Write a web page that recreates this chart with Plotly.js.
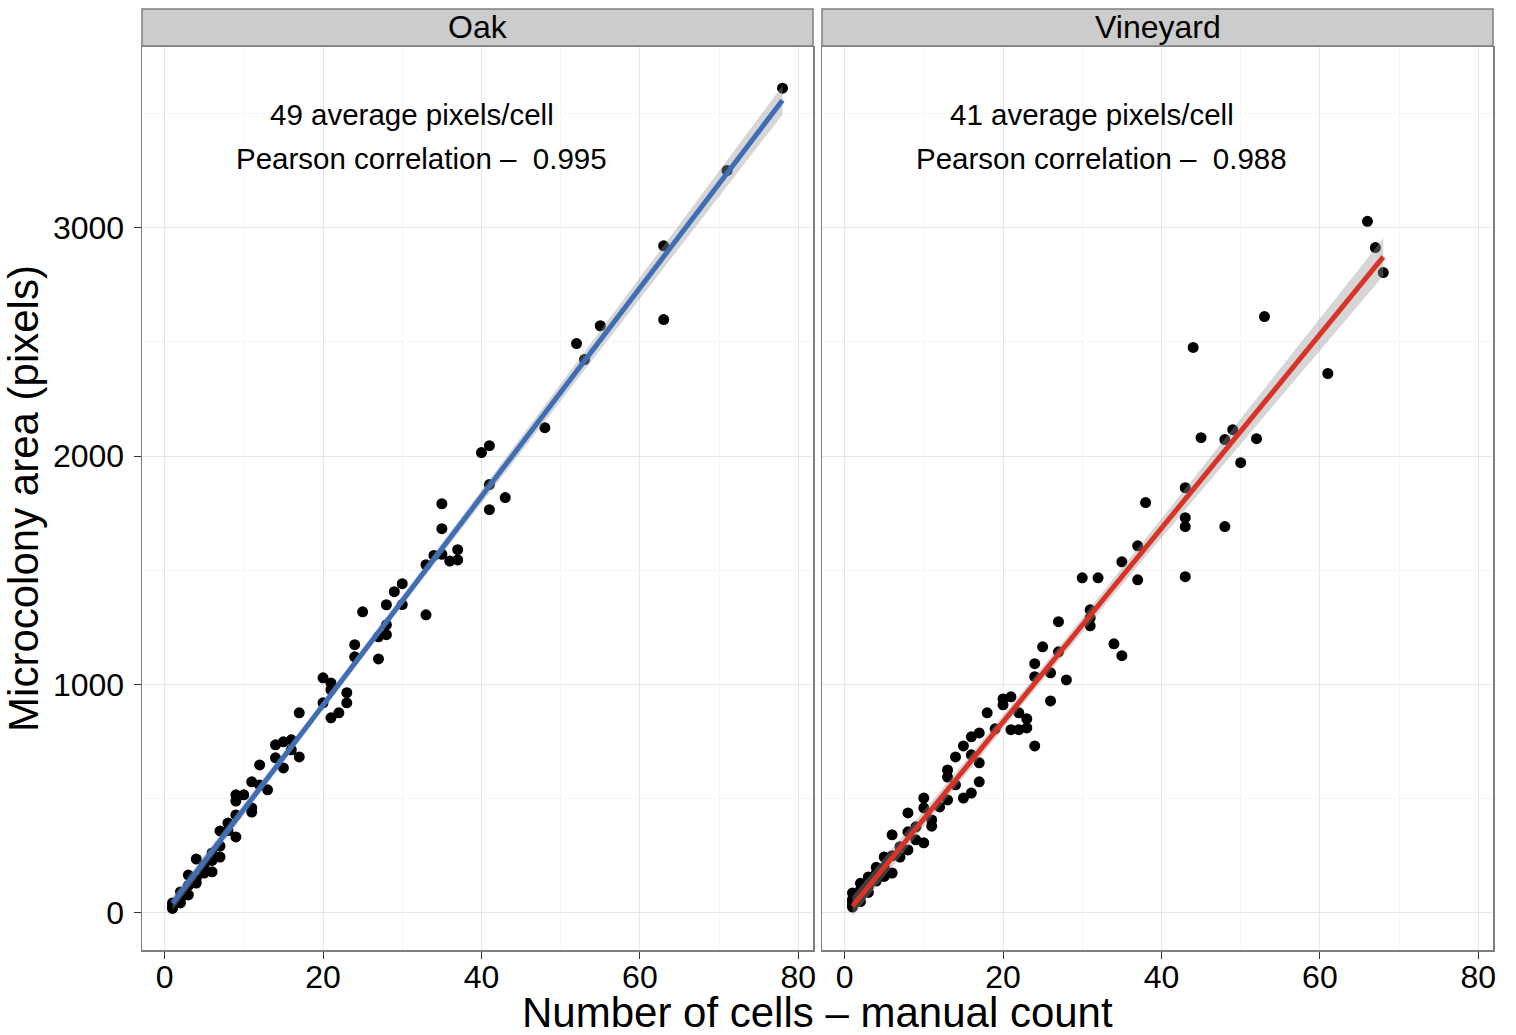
<!DOCTYPE html>
<html>
<head>
<meta charset="utf-8">
<script src="https://cdn.plot.ly/plotly-3.0.1.min.js"></script>
<style>html,body{margin:0;padding:0;background:#fff;}#chart{width:1516px;height:1035px;}</style>
</head>
<body>
<div id="chart"></div>
<script>
// ---- Data ----
const panels = ["Oak", "Vineyard"];
const oakCells = [1,1,1,2,2,2,3,3,3,4,4,4,5,5,6,6,6,7,7,7,8,8,9,9,9,9,10,11,11,11,12,12,13,14,14,15,15,16,16,17,17,20,20,21,21,21,22,23,23,24,24,25,27,27,28,28,28,29,30,30,33,33,34,35,36,37,37,35,35,40,41,41,41,43,48,52,53,55,63,63,71,78];
const oakArea  = [20,44,30,44,92,60,79,166,120,131,236,150,175,210,180,263,230,245,293,359,394,360,333,429,517,490,517,442,574,460,648,560,539,679,736,749,635,758,714,683,876,920,1029,854,1007,977,876,964,920,1174,1121,1318,1112,1209,1349,1261,1218,1406,1441,1350,1305,1524,1565,1570,1540,1590,1545,1791,1682,2015,2045,1875,1765,1818,2124,2492,2422,2570,2920,2597,3250,3610];
const vinCells = [1,1,1,1,1,2,2,2,2,3,3,3,4,4,4,5,5,5,6,6,6,7,7,8,8,8,9,9,10,10,10,11,11,12,13,13,13,14,14,15,15,16,16,16,17,17,17,18,19,20,20,21,21,22,22,23,23,24,24,24,25,26,26,27,27,28,30,31,31,31,32,34,35,35,37,37,38,43,43,43,43,44,45,48,48,49,50,52,53,61,66,67,68];
const vinArea  = [26,48,88,60,35,101,70,130,50,114,158,90,140,175,200,245,200,160,175,342,250,245,290,276,355,438,377,320,503,460,307,407,380,464,626,595,495,683,561,731,503,771,692,525,788,657,574,876,806,937,911,946,802,876,802,850,810,1091,1034,731,1165,1051,928,1275,1143,1020,1467,1327,1292,1257,1467,1178,1537,1126,1607,1458,1796,1861,1730,1691,1472,2475,2080,2072,1691,2115,1971,2076,2610,2361,3027,2912,2803];
const avgText  = ["49 average pixels/cell", "41 average pixels/cell"];
const corrText = ["Pearson correlation \u2013\u00a0 0.995", "Pearson correlation \u2013\u00a0 0.988"];
const fitColors = ["#3F6EB5", "#D93328"];
const xTicks = [0, 20, 40, 60, 80];
const yTicks = [0, 1000, 2000, 3000];

// ---- linear fit with 95% confidence band (computed from the data) ----
function fit(xs, ys) {
  const n = xs.length;
  const mx = xs.reduce((a,b)=>a+b,0)/n, my = ys.reduce((a,b)=>a+b,0)/n;
  let sxx=0, sxy=0;
  for (let i=0;i<n;i++){ sxx+=(xs[i]-mx)**2; sxy+=(xs[i]-mx)*(ys[i]-my); }
  const b = sxy/sxx, a = my - b*mx;
  let sse=0; for (let i=0;i<n;i++){ sse += (ys[i]-a-b*xs[i])**2; }
  const s = Math.sqrt(sse/(n-2)), t = 1.99;
  const lo = Math.min(...xs), hi = Math.max(...xs);
  const gx=[], gy=[], up=[], dn=[];
  for (let k=0;k<=80;k++){
    const x = lo + (hi-lo)*k/80; const y = a + b*x;
    const se = s*Math.sqrt(1/n + (x-mx)**2/sxx);
    gx.push(x); gy.push(y); up.push(y + t*se); dn.push(y - t*se);
  }
  return {gx, gy, up, dn};
}

const sets = [[oakCells, oakArea], [vinCells, vinArea]];
const traces = [];
sets.forEach((d, i) => {
  const xa = i === 0 ? 'x' : 'x2', ya = i === 0 ? 'y' : 'y2';
  traces.push({x: d[0], y: d[1], xaxis: xa, yaxis: ya, type: 'scatter', mode: 'markers',
    marker: {color: '#000000', size: 11}, showlegend: false, hoverinfo: 'x+y'});
});
sets.forEach((d, i) => {
  const xa = i === 0 ? 'x' : 'x2', ya = i === 0 ? 'y' : 'y2';
  const f = fit(d[0], d[1]);
  traces.push({x: f.gx.concat(f.gx.slice().reverse()), y: f.up.concat(f.dn.slice().reverse()),
    xaxis: xa, yaxis: ya, type: 'scatter', mode: 'lines', fill: 'toself',
    fillcolor: 'rgba(153,153,153,0.4)', line: {width: 0, color: 'rgba(0,0,0,0)'},
    showlegend: false, hoverinfo: 'skip'});
  traces.push({x: f.gx, y: f.gy, xaxis: xa, yaxis: ya, type: 'scatter', mode: 'lines',
    line: {color: fitColors[i], width: 5}, showlegend: false, hoverinfo: 'skip'});
});

const FONT = 'Liberation Sans, Arial, Helvetica, sans-serif';
const W = 1516, H = 1035, mL = 142, mR = 23, mT = 47, mB = 85;
const pw = W - mL - mR, ph = H - mT - mB;
const gap = 9 / pw;
const dom1 = [0, 0.5 - gap/2], dom2 = [0.5 + gap/2, 1];
const stripH = 38 / ph;

function xaxis(dom, anchor) {
  return {domain: dom, anchor: anchor, range: [-2.85, 81.85], tickvals: xTicks, ticktext: xTicks.map(String),
    ticks: 'outside', ticklen: 7, tickcolor: '#333333', tickwidth: 1, ticklabelstandoff: -9,
    tickfont: {family: FONT, size: 32, color: '#000'},
    showgrid: true, gridcolor: '#E6E6E6', gridwidth: 1,
    minor: {dtick: 10, tick0: 0, showgrid: true, gridcolor: '#F6F6F6', ticks: ''},
    zeroline: false, showline: true, mirror: true, linecolor: '#7F7F7F', linewidth: 1.5};
}
function yaxis(anchor, labels) {
  return {domain: [0, 1], anchor: anchor, range: [-162, 3790], tickvals: yTicks, ticktext: yTicks.map(String),
    ticks: labels ? 'outside' : '', ticklen: 7, tickcolor: '#333333', tickwidth: 1,
    showticklabels: labels, tickfont: {family: FONT, size: 32, color: '#000'},
    showgrid: true, gridcolor: '#E6E6E6', gridwidth: 1,
    minor: {dtick: 500, tick0: 0, showgrid: true, gridcolor: '#F6F6F6', ticks: ''},
    zeroline: false, showline: true, mirror: true, linecolor: '#7F7F7F', linewidth: 1.5};
}

const ya1 = yaxis('x', true);
ya1.ticklabelstandoff = 3;
ya1.title = {text: 'Microcolony area (pixels)', font: {family: FONT, size: 42, color: '#000'}, standoff: 2};
const ya2 = yaxis('x2', false);
ya2.matches = 'y';

const annotations = [];
const shapes = [];
[dom1, dom2].forEach((dom, i) => {
  shapes.push({type: 'rect', xref: 'paper', yref: 'paper', x0: dom[0], x1: dom[1], y0: 1 + 1/ph, y1: 1 + stripH,
    fillcolor: '#CCCCCC', line: {color: '#7F7F7F', width: 1.5}, layer: 'above'});
  annotations.push({xref: 'paper', yref: 'paper', x: (dom[0]+dom[1])/2, y: 1 + stripH/2 + 0.5/ph, text: panels[i],
    showarrow: false, xanchor: 'center', yanchor: 'middle', font: {family: FONT, size: 32, color: '#000'}});
  const xr = i === 0 ? 'x' : 'x2', yr = i === 0 ? 'y' : 'y2';
  annotations.push({xref: xr, yref: yr, x: 31.2, y: 3495, text: avgText[i], showarrow: false,
    xanchor: 'center', yanchor: 'middle', font: {family: FONT, size: 29.5, color: '#000'}});
  annotations.push({xref: xr, yref: yr, x: 32.4, y: 3302, text: corrText[i], showarrow: false,
    xanchor: 'center', yanchor: 'middle', font: {family: FONT, size: 29.5, color: '#000'}});
});
annotations.push({xref: 'paper', yref: 'paper', x: 0.5, y: -(1013 - (H - mB)) / ph, text: 'Number of cells \u2013 manual count',
  showarrow: false, xanchor: 'center', yanchor: 'middle', font: {family: FONT, size: 42, color: '#000'}});

const layout = {
  width: W, height: H, margin: {l: mL, r: mR, t: mT, b: mB, pad: 0},
  paper_bgcolor: '#FFFFFF', plot_bgcolor: '#FFFFFF', showlegend: false,
  xaxis: xaxis(dom1, 'y'), xaxis2: xaxis(dom2, 'y2'), yaxis: ya1, yaxis2: ya2,
  annotations: annotations, shapes: shapes, font: {family: FONT}
};
Plotly.newPlot('chart', traces, layout, {displayModeBar: false, staticPlot: true});
</script>
</body>
</html>
